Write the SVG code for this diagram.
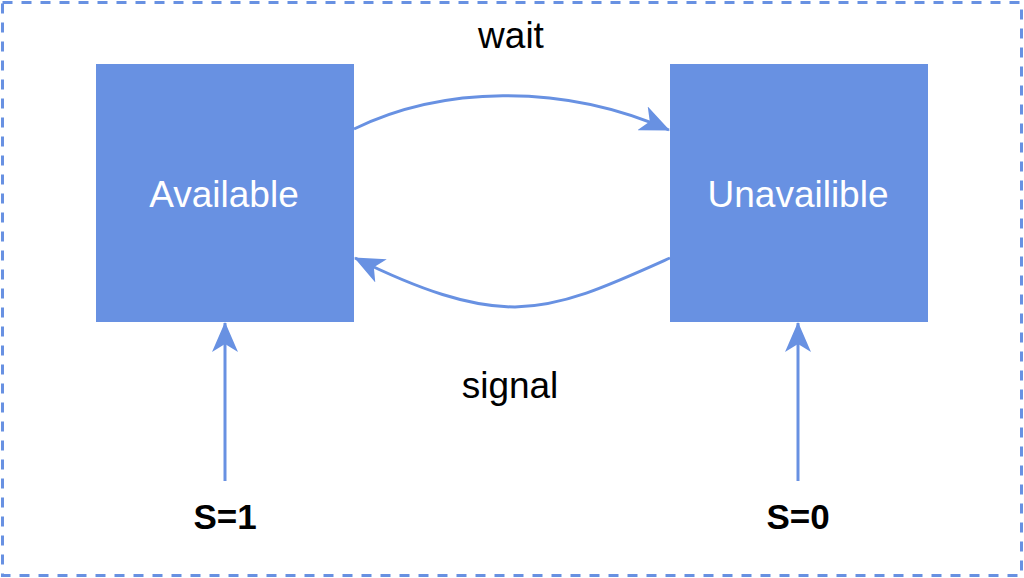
<svg xmlns="http://www.w3.org/2000/svg" width="1024" height="578" viewBox="0 0 1024 578">
<style>
.node{fill:#6891E2}
.ntext{fill:#fff;font-family:"Liberation Sans",Arial,sans-serif;font-size:37px;text-anchor:middle}
.lbl{fill:#000;font-family:"Liberation Sans",Arial,sans-serif;font-size:37px;text-anchor:middle}
.bold{font-weight:bold;font-size:35px}
.conn{fill:none;stroke:#6891E2;stroke-width:3}
</style>
<defs>
<marker id="ah" viewBox="0 0 30 26" refX="29" refY="13" markerWidth="30" markerHeight="26" markerUnits="userSpaceOnUse" orient="auto">
<path d="M0,0 L30,13 L0,26 L8,13 Z" fill="#6891E2"/>
</marker>
</defs>
<rect x="2.5" y="2.5" width="1019" height="573" fill="#fff" stroke="#6891E2" stroke-width="3" stroke-dasharray="10,9"/>
<g id="node-available">
<rect class="node" x="96" y="64" width="258" height="258"/>
<text class="ntext" x="224" y="207">Available</text>
</g>
<g id="node-unavailible">
<rect class="node" x="670" y="64" width="258" height="258"/>
<text class="ntext" x="798" y="207">Unavailible</text>
</g>
<g id="connectors">
<path class="conn" d="M354,129 C440,87 560,82 669,130" marker-end="url(#ah)"/>
<path class="conn" d="M670,258 C610,285 565,306 515,307 C470,307 420,290 355,258" marker-end="url(#ah)"/>
<path class="conn" d="M225,481 L225,323" marker-end="url(#ah)"/>
<path class="conn" d="M798,481 L798,323" marker-end="url(#ah)"/>
</g>
<g id="labels">
<text class="lbl" x="511" y="48">wait</text>
<text class="lbl" x="510" y="398">signal</text>
<text class="lbl bold" x="225" y="529">S=1</text>
<text class="lbl bold" x="798" y="529">S=0</text>
</g>
</svg>
